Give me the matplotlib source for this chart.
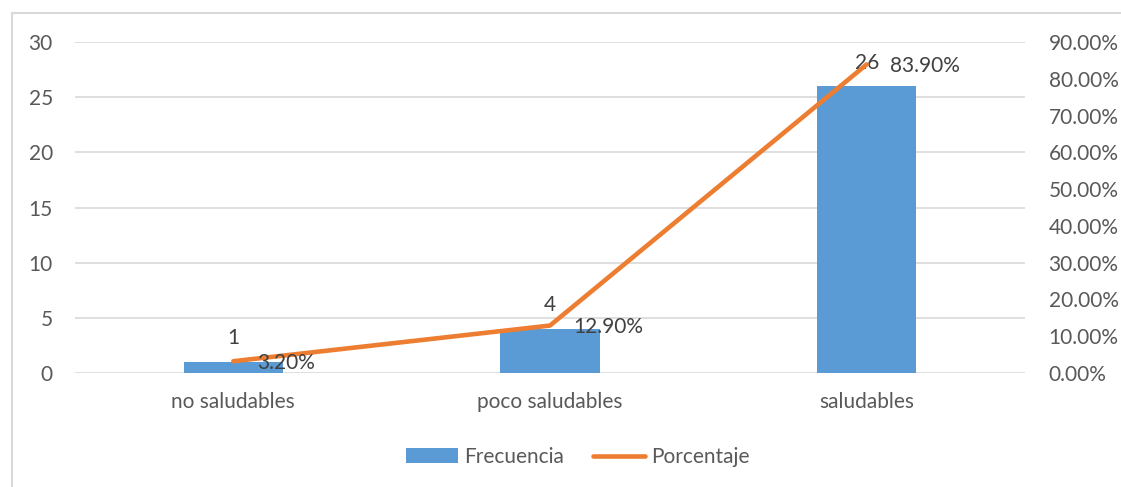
import matplotlib
matplotlib.use("Agg")
import matplotlib.pyplot as plt
from matplotlib.patches import Rectangle, Patch
from matplotlib.lines import Line2D
from matplotlib.ticker import PercentFormatter

categories = ["no saludables", "poco saludables", "saludables"]
frecuencia = [1, 4, 26]
porcentaje = [3.20, 12.90, 83.90]

BLUE = "#5B9BD5"
ORANGE = "#ED7D31"
TEXT = "#595959"
GRID = "#D9D9D9"
FS = 15

plt.rcParams["font.family"] = ["Lato", "DejaVu Sans"]
plt.rcParams["font.size"] = FS

W, H = 1121, 487
fig = plt.figure(figsize=(W / 100, H / 100), dpi=100)

# marco gris del grafico (sale por la derecha y por abajo)
fig.patches.append(Rectangle((12 / W, -0.05), 1.2, 1 - 13 / H + 0.05,
                             transform=fig.transFigure, fill=False,
                             edgecolor=GRID, linewidth=1.5))

ax = fig.add_axes([75 / W, 114 / H, 950 / W, 331 / H])
x = list(range(len(categories)))

ax.bar(x, frecuencia, width=0.313, color=BLUE, zorder=2)
ax.set_xlim(-0.5, len(categories) - 0.5)
ax.set_ylim(0, 30)
ax.set_yticks(range(0, 31, 5))
ax.yaxis.grid(True, color=GRID, linewidth=1.2, zorder=0)
ax.set_axisbelow(True)
for s in ax.spines.values():
    s.set_visible(False)
ax.tick_params(axis="y", length=0, pad=16, labelcolor=TEXT, labelsize=FS)
ax.tick_params(axis="x", length=0, pad=14, labelcolor=TEXT, labelsize=FS)
ax.set_xticks(x)
ax.set_xticklabels(categories)

for xi, v in zip(x, frecuencia):
    ax.annotate(str(v), (xi, v), xytext=(0, 17), textcoords="offset points",
                ha="center", va="center", color="#404040", fontsize=FS)

ax2 = ax.twinx()
ax2.plot(x, [p / 100 for p in porcentaje], color=ORANGE, linewidth=3.3,
         solid_capstyle="round", zorder=3)
ax2.set_ylim(0, 0.9)
ax2.set_yticks([i / 10 for i in range(10)])
ax2.yaxis.set_major_formatter(PercentFormatter(1.0, decimals=2))
for s in ax2.spines.values():
    s.set_visible(False)
ax2.tick_params(axis="y", length=0, pad=17, labelcolor=TEXT, labelsize=FS)

for xi, p in zip(x, porcentaje):
    ax2.annotate(f"{p:.2f}%", (xi, p / 100), xytext=(17, -1),
                 textcoords="offset points", ha="left", va="center",
                 color="#404040", fontsize=FS)

handles = [Patch(facecolor=BLUE, edgecolor="none"),
           Line2D([0], [0], color=ORANGE, linewidth=3.3, solid_capstyle="round")]
fig.legend(handles, ["Frecuencia", "Porcentaje"], loc="center",
           bbox_to_anchor=(578 / W, 30 / H), ncol=2, frameon=False,
           handlelength=2.5, handletextpad=0.3, columnspacing=1.4,
           labelcolor=TEXT, fontsize=FS)

fig.savefig("out.png", dpi=100)
